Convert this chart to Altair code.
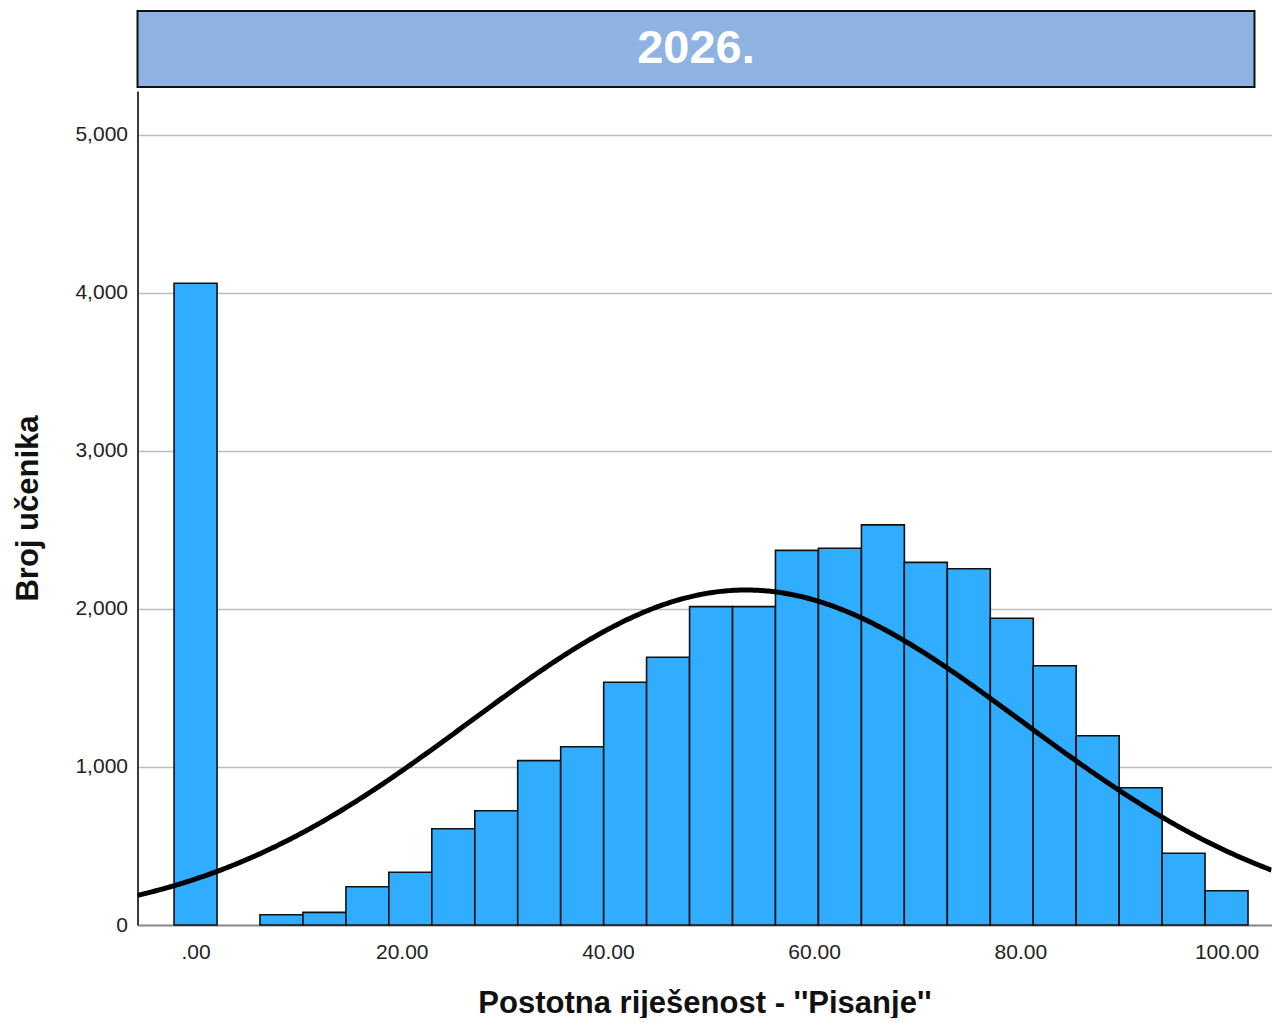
import altair as alt
import numpy as np
import pandas as pd

# ---- data ----
bin_centers = [0.00, 4.17, 8.33, 12.50, 16.67, 20.83, 25.00, 29.17, 33.33, 37.50,
               41.67, 45.83, 50.00, 54.17, 58.33, 62.50, 66.67, 70.83, 75.00, 79.17,
               83.33, 87.50, 91.67, 95.83, 100.00]
counts = [4061, 0, 65, 80, 242, 334, 609, 723, 1040, 1128,
          1536, 1694, 2015, 2015, 2371, 2384, 2532, 2295, 2255, 1941,
          1641, 1198, 869, 454, 217]
bin_width = 4.1667

# fitted normal curve parameters
curve_mean = 53.4
curve_sd = 26.8
curve_n = 34180

x_ticks = [0, 20, 40, 60, 80, 100]
y_ticks = [0, 1000, 2000, 3000, 4000, 5000]
x_domain = [-5.63, 104.36]
y_domain = [0, 5278]

header_text = "2026."
x_title = "Postotna riješenost - ''Pisanje''"
y_title = "Broj učenika"

FONT = "Liberation Sans"

bars_df = pd.DataFrame({
    "center": bin_centers,
    "count": counts,
})
bars_df["x0"] = bars_df["center"] - bin_width / 2
bars_df["x1"] = bars_df["center"] + bin_width / 2
bars_df = bars_df[bars_df["count"] > 0]

xs = np.arange(x_domain[0], x_domain[1] + 0.2, 0.2)
curve_df = pd.DataFrame({
    "x": xs,
    "y": curve_n * bin_width / (curve_sd * np.sqrt(2 * np.pi))
         * np.exp(-((xs - curve_mean) ** 2) / (2 * curve_sd ** 2)),
})

xscale = alt.Scale(domain=x_domain, nice=False, zero=False)
yscale = alt.Scale(domain=y_domain, nice=False)

xaxis = alt.Axis(
    values=x_ticks,
    labelExpr="datum.value == 0 ? '.00' : format(datum.value, '.2f')",
    ticks=False, grid=False,
    labelFontSize=21, labelFont=FONT, labelColor="#222222", labelPadding=16,
    title=x_title, titleFontSize=31, titleFont=FONT, titleFontWeight="bold",
    titleColor="#111111", titlePadding=26,
    domainColor="#8c8c8c", domainWidth=2,
)
yaxis = alt.Axis(
    values=y_ticks, format=",d",
    ticks=False, grid=True, gridColor="#bdbdbd", gridWidth=1.5,
    labelFontSize=21, labelFont=FONT, labelColor="#222222", labelPadding=10,
    title=y_title, titleFontSize=31, titleFont=FONT, titleFontWeight="bold",
    titleColor="#111111", titlePadding=30,
    domainColor="#3a3a3a", domainWidth=2,
)

bars = alt.Chart(bars_df).mark_rect(
    fill="#31adff", stroke="#111111", strokeWidth=1.6
).encode(
    x=alt.X("x0:Q", scale=xscale, axis=xaxis),
    x2="x1:Q",
    y=alt.Y("count:Q", scale=yscale, axis=yaxis),
    y2=alt.datum(0),
)

curve = alt.Chart(curve_df).mark_line(
    color="black", strokeWidth=5, clip=True
).encode(
    x=alt.X("x:Q", scale=xscale),
    y=alt.Y("y:Q", scale=yscale),
)

main = alt.layer(bars, curve).properties(
    width=1134, height=834,
    view=alt.ViewBackground(stroke="transparent"),
)

header = alt.Chart(pd.DataFrame({"t": [header_text]})).mark_text(
    font=FONT, fontSize=47, fontWeight="bold", color="white"
).encode(
    text="t:N"
).properties(
    width=1117, height=76,
    view=alt.ViewBackground(fill="#8eb3e2", stroke="#111111", strokeWidth=2),
)

chart = alt.vconcat(header, main, spacing=3).properties(
    padding={"left": 4.5, "top": 2, "right": 0, "bottom": 0}
).configure_view(
    strokeWidth=0
)

chart.save("out.html", embed_options={"renderer": "svg", "actions": False})
